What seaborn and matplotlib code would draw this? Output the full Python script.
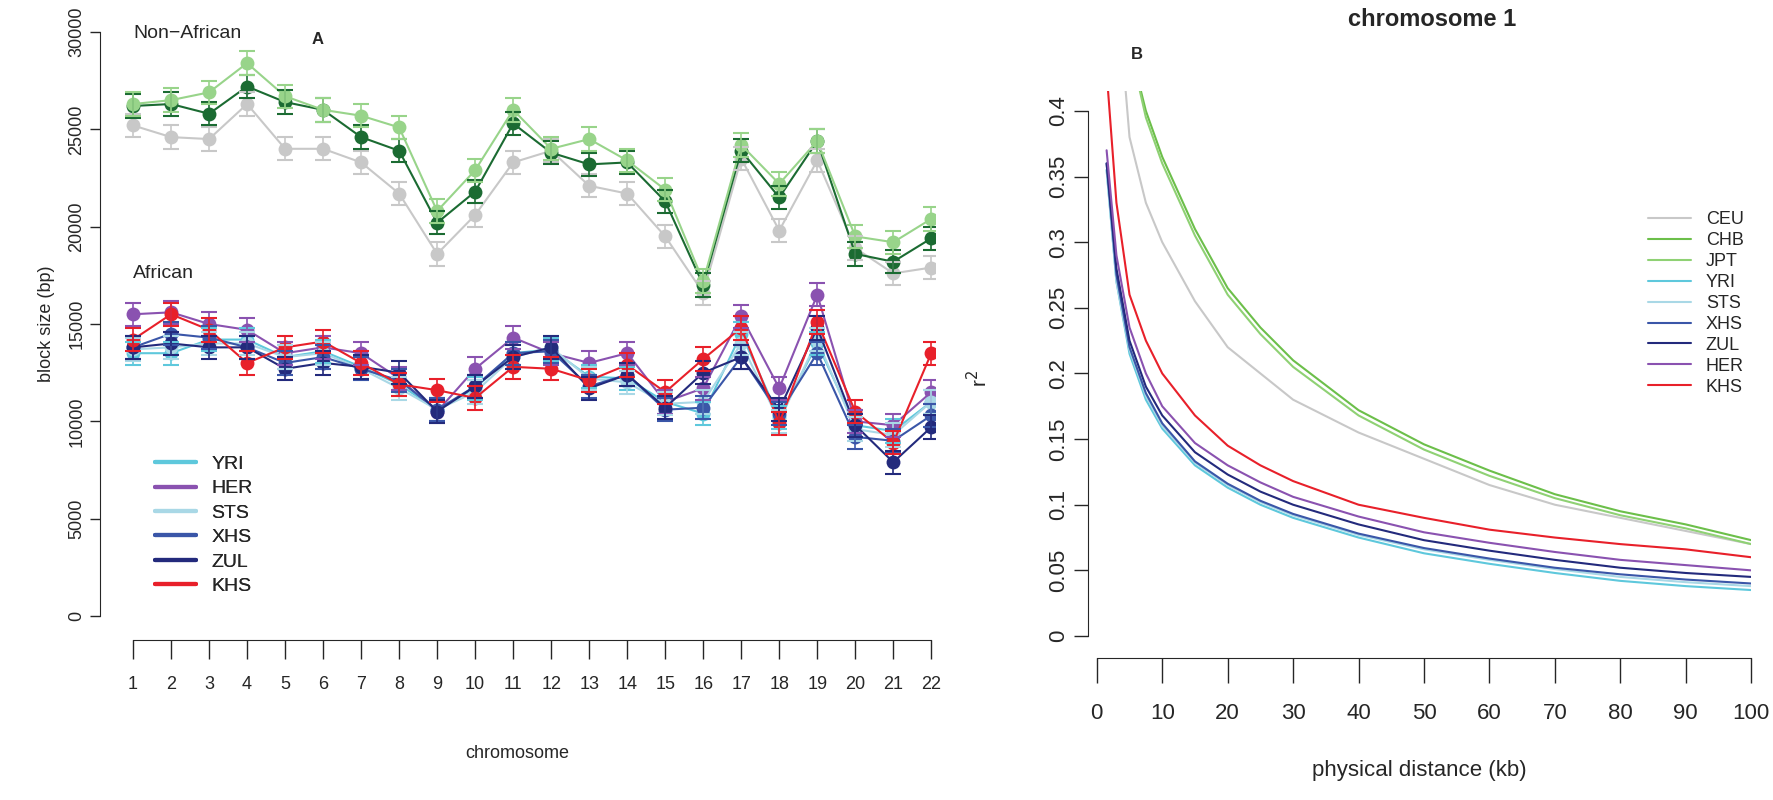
import matplotlib
matplotlib.use("Agg")
import matplotlib.pyplot as plt
import numpy as np
import pandas as pd
import seaborn as sns

sns.set_style("white")
plt.rcParams["font.family"] = ["Liberation Sans", "DejaVu Sans"]

chromosomes = list(range(1, 23))

# Panel A: mean haplotype block size per chromosome
ceu = [25200, 24600, 24500, 26300, 24000, 24000, 23300, 21700, 18600, 20600, 23300,
       23900, 22100, 21700, 19500, 16600, 23500, 19800, 23400, 18900, 17600, 17900]
chb = [26200, 26300, 25800, 27200, 26400, 26000, 24600, 23900, 20200, 21800, 25300,
       23800, 23200, 23300, 21300, 17000, 23900, 21500, 24400, 18600, 18200, 19400]
jpt = [26300, 26500, 26900, 28400, 26700, 26000, 25700, 25100, 20800, 22900, 26000,
       24000, 24500, 23400, 21900, 17200, 24200, 22200, 24400, 19500, 19200, 20400]
yri = [13500, 13500, 14200, 14200, 13300, 13600, 12800, 11900, 10600, 11700, 13500,
       13700, 12300, 12200, 11000, 10400, 14500, 10200, 14000, 9800, 9500, 11000]
her = [15500, 15600, 15000, 14700, 13500, 13800, 13500, 12200, 10500, 12700, 14300,
       13500, 13000, 13500, 11000, 11700, 15400, 11700, 16500, 10000, 9800, 11500]
sts = [13700, 13800, 14000, 14000, 13300, 13500, 12700, 11700, 10600, 11500, 13300,
       13800, 12200, 12000, 10900, 11000, 14000, 10000, 14200, 9600, 9300, 11000]
xhs = [13800, 14500, 14300, 13800, 13000, 13300, 12700, 12100, 10600, 11800, 13500,
       13600, 11800, 12400, 10600, 10700, 13300, 10400, 13500, 9200, 9000, 10300]
zul = [13800, 14000, 13800, 13800, 12700, 13000, 12800, 12500, 10500, 11800, 13300,
       13800, 11700, 12400, 10700, 12500, 13300, 10600, 14800, 9800, 7900, 9700]
khs = [14200, 15500, 14700, 13000, 13800, 14100, 13000, 11900, 11600, 11200, 12800,
       12700, 12100, 12900, 11500, 13200, 14800, 9900, 15100, 10500, 8900, 13500]
block_err = 600

# Panel B: LD decay on chromosome 1 (r^2 vs distance in kb)
dist_kb = [1.5, 3, 5, 7.5, 10, 15, 20, 25, 30, 40, 50, 60, 70, 80, 90, 100]
r2_ceu = [0.60, 0.50, 0.38, 0.33, 0.30, 0.255, 0.22, 0.20, 0.18, 0.155, 0.135, 0.115, 0.10, 0.09, 0.08, 0.07]
r2_chb = [0.70, 0.55, 0.45, 0.40, 0.365, 0.31, 0.265, 0.235, 0.21, 0.172, 0.146, 0.126, 0.108, 0.095, 0.085, 0.073]
r2_jpt = [0.70, 0.55, 0.45, 0.395, 0.36, 0.305, 0.26, 0.23, 0.205, 0.168, 0.142, 0.122, 0.105, 0.092, 0.082, 0.070]
r2_yri = [0.355, 0.27, 0.215, 0.18, 0.158, 0.13, 0.113, 0.10, 0.09, 0.075, 0.063, 0.055, 0.048, 0.042, 0.038, 0.035]
r2_sts = [0.355, 0.27, 0.218, 0.183, 0.16, 0.132, 0.115, 0.102, 0.092, 0.077, 0.066, 0.058, 0.051, 0.045, 0.041, 0.038]
r2_xhs = [0.36, 0.275, 0.22, 0.185, 0.162, 0.133, 0.116, 0.103, 0.093, 0.078, 0.067, 0.059, 0.052, 0.047, 0.043, 0.040]
r2_zul = [0.36, 0.28, 0.225, 0.19, 0.168, 0.14, 0.123, 0.11, 0.10, 0.085, 0.073, 0.065, 0.058, 0.052, 0.048, 0.045]
r2_her = [0.37, 0.29, 0.235, 0.20, 0.175, 0.147, 0.13, 0.117, 0.106, 0.091, 0.079, 0.071, 0.064, 0.058, 0.054, 0.050]
r2_khs = [0.43, 0.33, 0.26, 0.225, 0.20, 0.168, 0.145, 0.13, 0.118, 0.10, 0.09, 0.081, 0.075, 0.07, 0.066, 0.060]

colors_a = {"CEU": "#c8c8c8", "CHB": "#1b6b32", "JPT": "#98d48a",
            "YRI": "#5ec8dc", "HER": "#8a52b0", "STS": "#a9d8e6",
            "XHS": "#3a56a8", "ZUL": "#232a7c", "KHS": "#e8202a"}
colors_b = dict(colors_a, CHB="#6cbf4a", JPT="#8fd174")

fig = plt.figure(figsize=(17.73, 8), dpi=100)

# ── Panel A ───────────────────────────────────────────────────────────────
ax = fig.add_axes([0.0564, 0.23, 0.471, 0.73])
series_a = {"CEU": ceu, "CHB": chb, "JPT": jpt, "YRI": yri, "HER": her,
            "STS": sts, "XHS": xhs, "ZUL": zul, "KHS": khs}
rows = [(k, c, v) for k, vals in series_a.items() for c, v in zip(chromosomes, vals)]
df_a = pd.DataFrame(rows, columns=["pop", "chrom", "size"])
sns.lineplot(data=df_a, x="chrom", y="size", hue="pop", palette=colors_a,
             marker="o", markersize=10, markeredgewidth=0, linewidth=1.5,
             legend=False, ax=ax)
for pop, vals in series_a.items():
    ax.errorbar(chromosomes, vals, yerr=block_err, fmt="none",
                ecolor=colors_a[pop], capsize=6, elinewidth=1.2, capthick=1.5)

ax.set_xlim(0.13, 22.1)
ax.set_ylim(0, 30000)
ax.set_xticks(chromosomes)
ax.set_yticks(range(0, 30001, 5000))
ax.tick_params(axis="x", labelsize=13, length=14, width=1, pad=12)
ax.tick_params(axis="y", labelsize=13, length=7, width=1, labelrotation=90)
for lbl in ax.get_yticklabels():
    lbl.set_va("center")
ax.tick_params(left=True, bottom=True)
for s in ["top", "right"]:
    ax.spines[s].set_visible(False)
ax.spines["bottom"].set_position(("outward", 17))
ax.spines["bottom"].set_bounds(1, 22)
ax.spines["left"].set_bounds(0, 30000)
ax.set_xlabel("chromosome", fontsize=13, labelpad=38)
ax.set_ylabel("block size (bp)", fontsize=13, labelpad=10)
ax.text(1.0, 29900, "Non\u2212African", fontsize=14, va="center")
ax.text(1.0, 17600, "African", fontsize=14, va="center")
ax.text(5.7, 29600, "A", fontsize=12, fontweight="bold", va="center")

h_top = [plt.Line2D([], [], color=colors_a[p], lw=3) for p in ["CEU", "CHB", "JPT"]]
ax.legend(h_top, ["CEU", "CHB", "JPT"], loc="upper left", bbox_to_anchor=(0.905, 0.915),
          frameon=False, fontsize=14, handlelength=2.1, labelspacing=0.35)
low = ["YRI", "HER", "STS", "XHS", "ZUL", "KHS"]
h_low = [plt.Line2D([], [], color=colors_a[p], lw=3) for p in low]
leg2 = plt.legend(h_low, low, loc="upper left", bbox_to_anchor=(0.045, 0.305),
                  frameon=False, fontsize=14, handlelength=2.1, labelspacing=0.35)
ax.add_artist(leg2)

# ── Panel B ───────────────────────────────────────────────────────────────
bx = fig.add_axes([0.6137, 0.205, 0.374, 0.681])
series_b = {"CEU": r2_ceu, "CHB": r2_chb, "JPT": r2_jpt, "YRI": r2_yri, "STS": r2_sts,
            "XHS": r2_xhs, "ZUL": r2_zul, "HER": r2_her, "KHS": r2_khs}
rows = [(k, d, v) for k, vals in series_b.items() for d, v in zip(dist_kb, vals)]
df_b = pd.DataFrame(rows, columns=["pop", "dist", "r2"])
sns.lineplot(data=df_b, x="dist", y="r2", hue="pop", palette=colors_b,
             linewidth=1.5, ax=bx, legend=False)
bx.set_xlim(-1.33, 100)
bx.set_ylim(0, 0.415)
bx.set_xticks(range(0, 101, 10))
bx.set_yticks(np.arange(0, 0.401, 0.05))
bx.set_yticklabels(["0", "0.05", "0.1", "0.15", "0.2", "0.25", "0.3", "0.35", "0.4"],
                   rotation=90, va="center")
bx.tick_params(axis="x", labelsize=16, length=18, width=1, pad=14)
bx.tick_params(axis="y", labelsize=16, length=10, width=1)
bx.tick_params(left=True, bottom=True)
for s in ["top", "right"]:
    bx.spines[s].set_visible(False)
bx.spines["bottom"].set_position(("outward", 16))
bx.spines["bottom"].set_bounds(0, 100)
bx.spines["left"].set_bounds(0, 0.4)
bx.set_xlabel("physical distance (kb)", fontsize=16, labelpad=26)
bx.set_ylabel("")
fig.text(0.545, 0.527, "r$^2$", fontsize=15, rotation=90, va="center")
fig.text(0.808, 0.976, "chromosome 1", fontsize=17, fontweight="bold",
         ha="center", va="center")
fig.text(0.638, 0.932, "B", fontsize=12, fontweight="bold", va="center")

order_b = ["CEU", "CHB", "JPT", "YRI", "STS", "XHS", "ZUL", "HER", "KHS"]
h_b = [plt.Line2D([], [], color=colors_b[p], lw=1.5) for p in order_b]
bx.legend(h_b, order_b, loc="upper left", bbox_to_anchor=(0.82, 0.81),
          frameon=False, fontsize=13, handlelength=2.4, labelspacing=0.22)

fig.savefig("out.png", dpi=100)
